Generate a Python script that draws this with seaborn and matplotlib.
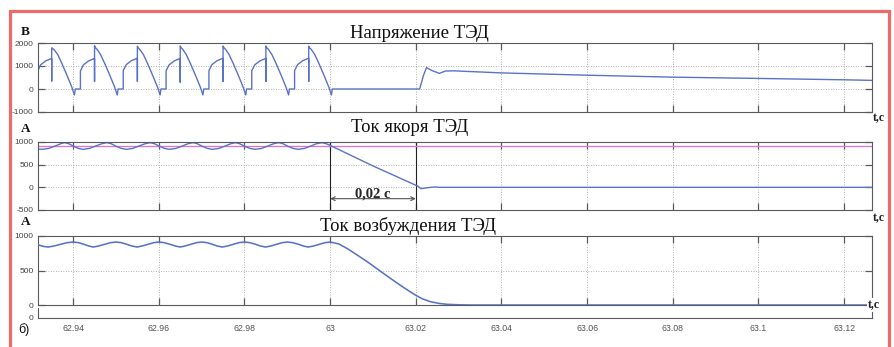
import numpy as np
import pandas as pd
import matplotlib
matplotlib.use("Agg")
import matplotlib.pyplot as plt
import seaborn as sns
from matplotlib.patches import Rectangle

sns.set_theme(style="white")
plt.rcParams['font.family'] = ['Liberation Sans', 'DejaVu Sans']

# ---------------- data ----------------
titles = ["Напряжение ТЭД", "Ток якоря ТЭД", "Ток возбуждения ТЭД"]
units = ["В", "А", "А"]
x_ticks = [62.94, 62.96, 62.98, 63.0, 63.02, 63.04, 63.06, 63.08, 63.10, 63.12]
x_tick_labels = ["62.94", "62.96", "62.98", "63", "63.02", "63.04", "63.06", "63.08", "63.1", "63.12"]
x_range = [62.9318, 63.1265]

# Voltage (В)
u_t = [62.9318, 62.9324, 62.9336, 62.9346, 62.9350, 62.9350, 62.9350, 62.9352, 62.9356, 62.9364, 62.9374, 62.9386, 62.9397, 62.9403, 62.9405,
       62.9417, 62.9417, 62.9424, 62.9436, 62.9446, 62.9450, 62.9450, 62.9450, 62.9452, 62.9456, 62.9464, 62.9474, 62.9486, 62.9497, 62.9503, 62.9505,
       62.9517, 62.9517, 62.9524, 62.9536, 62.9546, 62.9550, 62.9550, 62.9550, 62.9552, 62.9556, 62.9564, 62.9574, 62.9586, 62.9597, 62.9603, 62.9605,
       62.9617, 62.9617, 62.9624, 62.9636, 62.9646, 62.9650, 62.9650, 62.9650, 62.9652, 62.9656, 62.9664, 62.9674, 62.9686, 62.9697, 62.9703, 62.9705,
       62.9717, 62.9717, 62.9724, 62.9736, 62.9746, 62.9750, 62.9750, 62.9750, 62.9752, 62.9756, 62.9764, 62.9774, 62.9786, 62.9797, 62.9803, 62.9805,
       62.9817, 62.9817, 62.9824, 62.9836, 62.9846, 62.9850, 62.9850, 62.9850, 62.9852, 62.9856, 62.9864, 62.9874, 62.9886, 62.9897, 62.9903, 62.9905,
       62.9917, 62.9917, 62.9924, 62.9936, 62.9946, 62.9950, 62.9950, 62.9950, 62.9952, 62.9956, 62.9964, 62.9974, 62.9986, 62.9997, 63.0003, 63.0005,
       63.0209, 63.0218, 63.0225, 63.0238, 63.0255, 63.0269, 63.0288, 63.0400, 63.0600, 63.0800, 63.1000, 63.1200, 63.1265]
u_v = [800, 1050, 1220, 1300, 1320, 350, 1790, 1760, 1700, 1500, 1100, 580, 80, -260, 0,
       0, 780, 1050, 1220, 1300, 1330, 330, 1880, 1800, 1720, 1500, 1100, 580, 80, -260, 0,
       0, 800, 1060, 1230, 1310, 1340, 340, 1860, 1790, 1710, 1500, 1100, 580, 80, -260, 0,
       0, 790, 1050, 1220, 1300, 1330, 300, 1870, 1800, 1720, 1500, 1100, 580, 80, -260, 0,
       0, 800, 1060, 1230, 1310, 1330, 330, 1870, 1800, 1720, 1500, 1100, 580, 80, -260, 0,
       0, 790, 1050, 1220, 1300, 1330, 330, 1870, 1800, 1720, 1500, 1100, 580, 80, -260, 0,
       0, 800, 1060, 1230, 1310, 1330, 330, 1860, 1790, 1720, 1500, 1100, 580, 80, -260, 0,
       0, 600, 930, 800, 680, 780, 790, 700, 600, 515, 460, 400, 375]

# Armature current (А)
ia_t = [62.9318, 62.9328, 62.9343, 62.9358, 62.9371, 62.9380, 62.9390, 62.9401, 62.9412,
        62.9423, 62.9438, 62.9453, 62.9467, 62.9479, 62.9489, 62.9500, 62.9512,
        62.9524, 62.9539, 62.9554, 62.9568, 62.9580, 62.9590, 62.9601, 62.9613,
        62.9625, 62.9640, 62.9655, 62.9668, 62.9680, 62.9690, 62.9701, 62.9713,
        62.9725, 62.9740, 62.9755, 62.9768, 62.9779, 62.9789, 62.9800, 62.9812,
        62.9825, 62.9840, 62.9855, 62.9868, 62.9880, 62.9890, 62.9901, 62.9913,
        62.9925, 62.9940, 62.9955, 62.9968, 62.9981, 62.9991, 63.0000,
        63.0100, 63.0205, 63.0212, 63.0222, 63.0235, 63.0245, 63.0255, 63.1265]
ia_v = [845, 838, 858, 912, 962, 985, 962, 908, 860,
        838, 858, 912, 962, 985, 962, 908, 860,
        838, 858, 912, 962, 985, 962, 908, 860,
        838, 858, 912, 962, 985, 962, 908, 860,
        838, 858, 912, 962, 985, 962, 908, 860,
        838, 858, 912, 962, 985, 962, 908, 860,
        838, 858, 912, 962, 985, 962, 925,
        472, 25, -30, -15, 0, 8, 0, 0]
ia_ref_t = [62.9318, 63.1265]
ia_ref_v = [910, 910]

# Field current (А)
iv_t = [62.9318, 62.9330, 62.9342, 62.9356, 62.9371, 62.9386, 62.9400, 62.9412, 62.9424, 62.9436,
        62.9447, 62.9460, 62.9474, 62.9487, 62.9500, 62.9512, 62.9524, 62.9537,
        62.9549, 62.9562, 62.9575, 62.9588, 62.9600, 62.9612, 62.9625, 62.9638,
        62.9650, 62.9662, 62.9675, 62.9688, 62.9700, 62.9712, 62.9724, 62.9736,
        62.9748, 62.9761, 62.9774, 62.9787, 62.9800, 62.9812, 62.9825, 62.9837,
        62.9849, 62.9862, 62.9875, 62.9888, 62.9900, 62.9912, 62.9925, 62.9937,
        62.9949, 62.9962, 62.9975, 62.9988, 63.0000,
        63.0020, 63.0040, 63.0063, 63.0087, 63.0114, 63.0141, 63.0170, 63.0199, 63.0215,
        63.0234, 63.0255, 63.0273, 63.0300, 63.0330, 63.1265]
iv_v = [872, 850, 840, 856, 880, 903, 913, 904, 882, 856,
        840, 856, 880, 903, 913, 904, 882, 856,
        840, 856, 880, 903, 913, 904, 882, 856,
        840, 856, 880, 903, 913, 904, 882, 856,
        840, 856, 880, 903, 913, 904, 882, 856,
        840, 856, 880, 903, 913, 904, 882, 856,
        840, 856, 880, 903, 913,
        885, 818, 725, 625, 505, 385, 260, 144, 90,
        48, 22, 10, 3, 0, 0]

marker_t = [63.0, 63.02]
marker_label = "0,02 с"

# ---------------- figure ----------------
W_PX, H_PX = 894, 347
fig = plt.figure(figsize=(W_PX / 100, H_PX / 100), dpi=100)

def box(top, bottom, left=38, right=872):
    return [left / W_PX, 1 - bottom / H_PX, (right - left) / W_PX, (bottom - top) / H_PX]

ax1 = fig.add_axes(box(43, 112))
ax2 = fig.add_axes(box(142, 210))
ax3 = fig.add_axes(box(236, 305))
ax4 = fig.add_axes(box(308, 318))

BLUE = "#5a73c8"
MAG = "#d77bd6"
GRID = "#9a9a9a"
SPINE = "#5a5a5a"
TICKC = "#444444"

def style(ax, ylim, yticks, ylabels):
    ax.set_xlim(*x_range)
    ax.set_ylim(*ylim)
    ax.set_xticks(x_ticks)
    ax.set_xticklabels([])
    ax.set_yticks(yticks)
    ax.set_yticklabels(ylabels, fontsize=6, color=TICKC)
    ax.tick_params(direction='in', length=5, width=0.9, colors=SPINE, labelcolor=TICKC,
                   top=True, right=True, bottom=True, left=True, pad=3)
    ax.grid(True, linestyle=(0, (1, 2)), color=GRID, linewidth=0.6)
    for s in ax.spines.values():
        s.set_color(SPINE)
        s.set_linewidth(0.8)
    ax.set_xlabel('')
    ax.set_ylabel('')

sns.lineplot(x=u_t, y=u_v, ax=ax1, color=BLUE, lw=1.0, sort=False, estimator=None, errorbar=None)
style(ax1, (-1000, 2000), [-1000, 0, 1000, 2000], ["-1000", "0", "1000", "2000"])

sns.lineplot(x=ia_ref_t, y=ia_ref_v, ax=ax2, color=MAG, lw=1.0, sort=False, estimator=None, errorbar=None)
sns.lineplot(x=ia_t, y=ia_v, ax=ax2, color=BLUE, lw=1.0, sort=False, estimator=None, errorbar=None)
style(ax2, (-500, 1000), [-500, 0, 500, 1000], ["-500", "0", "500", "1000"])
for xm in marker_t:
    ax2.axvline(xm, color="#222222", lw=0.8, zorder=1)
ax2.annotate("", xy=(marker_t[0], -250), xytext=(marker_t[1], -250),
             arrowprops=dict(arrowstyle="<->", color="#555555", lw=0.8, shrinkA=0, shrinkB=0,
                             mutation_scale=7))
ax2.text((marker_t[0] + marker_t[1]) / 2, -150, marker_label, ha="center", va="center",
         fontsize=10.5, fontweight="bold", family="Liberation Serif")

sns.lineplot(x=iv_t, y=iv_v, ax=ax3, color=BLUE, lw=1.15, sort=False, estimator=None, errorbar=None, zorder=5)
style(ax3, (0, 1000), [0, 500, 1000], ["0", "500", "1000"])

# bottom bracket axis with the time labels
ax4.set_xlim(*x_range)
ax4.set_ylim(0, 1)
ax4.set_xticks(x_ticks)
ax4.set_xticklabels(x_tick_labels, fontsize=6.3, color="#555555")
ax4.set_yticks([0])
ax4.set_yticklabels(["0"], fontsize=6, color=TICKC)
ax4.tick_params(axis='x', direction='in', length=6, width=0.9, colors=SPINE, labelcolor="#555555", pad=4)
ax4.tick_params(axis='y', length=0, pad=3, labelcolor=TICKC)
ax4.spines['top'].set_visible(False)
for s in ['left', 'right', 'bottom']:
    ax4.spines[s].set_color(SPINE)
    ax4.spines[s].set_linewidth(0.8)

# titles
serif = "Liberation Serif"
title_pos = [(419, 33), (410, 127), (408, 226)]
for (xp, yp), t in zip(title_pos, titles):
    fig.text(xp / W_PX, 1 - yp / H_PX, t, ha="center", va="center", fontsize=13.5,
             family=serif, color="#111111")

unit_pos = [(25, 32), (26, 129), (26, 222)]
for (xp, yp), t in zip(unit_pos, units):
    fig.text(xp / W_PX, 1 - yp / H_PX, t, ha="center", va="center", fontsize=9.5,
             fontweight="bold", family=serif, color="#111111")

tc_pos = [(879, 118), (879, 218), (874, 305)]
for i, (xp, yp) in enumerate(tc_pos):
    fig.text(xp / W_PX, 1 - yp / H_PX, "t,c", ha="center", va="center", fontsize=8.5,
             fontweight="bold", family=serif, color="#222222",
             bbox=dict(facecolor="white", edgecolor="none", pad=0.5) if i == 2 else None)

fig.text(24 / W_PX, 1 - 330 / H_PX, "б)", ha="center", va="center", fontsize=9, color="#111111")

# red frame
rect = Rectangle((9.5 / W_PX, -0.1), (889 - 9.5) / W_PX, 1.1 - 10.7 / H_PX,
                 transform=fig.transFigure, fill=False, edgecolor="#ee6a6a", linewidth=2.3,
                 clip_on=False)
fig.add_artist(rect)

fig.savefig("out.png", dpi=100, facecolor="white")
